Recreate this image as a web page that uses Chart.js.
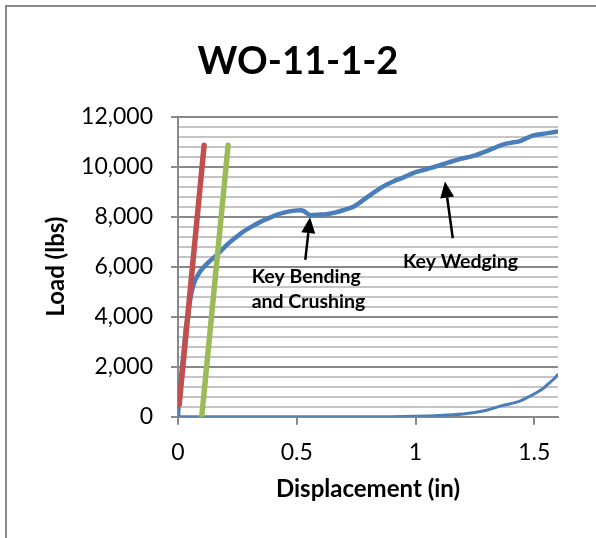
<!DOCTYPE html>
<html>
<head>
<meta charset="utf-8">
<script src="https://cdn.jsdelivr.net/npm/chart.js@4/dist/chart.umd.min.js"></script>
<style>
  html, body { margin: 0; padding: 0; background: #fff; }
  #wrap { width: 596px; height: 538px; }
</style>
</head>
<body>
<div id="wrap"><canvas id="loadChart" width="596" height="538"></canvas></div>
<script>
// chart title and axis titles
var chartTitle = 'WO-11-1-2';
var xTitle = 'Displacement (in)';
var yTitle = 'Load (lbs)';

// tick labels
var xTickLabels = ['0', '0.5', '1', '1.5'];
var yTickLabels = ['0', '2,000', '4,000', '6,000', '8,000', '10,000', '12,000'];

// main load curve (blue)
var loadDisp = [0, 0.003, 0.012, 0.023, 0.033, 0.042, 0.05, 0.058, 0.068, 0.08, 0.095, 0.115, 0.14, 0.165, 0.19, 0.215, 0.245, 0.275, 0.31, 0.345, 0.38, 0.415, 0.45, 0.49, 0.515, 0.53, 0.545, 0.56, 0.59, 0.625, 0.66, 0.7, 0.735, 0.765, 0.8, 0.835, 0.87, 0.91, 0.947, 0.99, 1.04, 1.087, 1.14, 1.185, 1.24, 1.297, 1.33, 1.367, 1.4, 1.437, 1.47, 1.493, 1.55, 1.605];
var loadVal  = [0, 550, 1500, 2500, 3500, 4000, 4600, 5000, 5350, 5600, 5830, 6050, 6270, 6480, 6720, 6950, 7180, 7400, 7600, 7780, 7930, 8070, 8170, 8240, 8260, 8220, 8120, 8060, 8080, 8100, 8160, 8270, 8380, 8560, 8800, 9030, 9240, 9420, 9560, 9740, 9880, 10010, 10170, 10300, 10420, 10610, 10740, 10880, 10950, 11010, 11150, 11240, 11330, 11410];

// lower curve (blue)
var lowDisp = [0, 0.2, 0.4, 0.6, 0.8, 1.0, 1.1, 1.2, 1.25, 1.3, 1.353, 1.4, 1.437, 1.47, 1.507, 1.54, 1.563, 1.585, 1.601];
var lowVal  = [0, 0, 0, 0, 0, 20, 50, 110, 170, 260, 413, 520, 613, 760, 947, 1150, 1347, 1530, 1707];

// stiffness lines
var redDisp = [0.005, 0.11];
var redVal  = [480, 10850];
var greenDisp = [0.1, 0.211];
var greenVal  = [0, 10850];

// notes: text and arrows, in data units
var notes = [
  { text: 'Key Bending', x: 0.31, y: 5336 },
  { text: 'and Crushing', x: 0.31, y: 4348 },
  { text: 'Key Wedging', x: 0.947, y: 5960 }
];
var arrows = [
  { fromX: 0.536, fromY: 6270, toX: 0.556, toY: 7980 },
  { fromX: 1.157, fromY: 7136, toX: 1.124, toY: 9400 }
];

function toPoints(xs, ys) {
  var pts = [];
  for (var i = 0; i < xs.length; i++) {
    pts.push({ x: xs[i], y: ys[i] });
  }
  return pts;
}

var majorGrid = '#898989';
var minorGrid = '#c4c4c4';

// frame round the chart and white background
var framePlugin = {
  id: 'frame',
  beforeDraw: function (chart) {
    var ctx = chart.ctx;
    ctx.save();
    ctx.fillStyle = '#fff';
    ctx.fillRect(0, 0, chart.width, chart.height);
    ctx.strokeStyle = '#8a8a8a';
    ctx.lineWidth = 2;
    ctx.beginPath();
    ctx.moveTo(6, chart.height);
    ctx.lineTo(6, 6);
    ctx.lineTo(chart.width, 6);
    ctx.stroke();
    ctx.restore();
  }
};

// arrows and text notes
var notesPlugin = {
  id: 'notes',
  afterDatasetsDraw: function (chart) {
    var ctx = chart.ctx;
    var xs = chart.scales.x, ys = chart.scales.y;
    ctx.save();
    ctx.fillStyle = '#000';
    ctx.strokeStyle = '#000';
    ctx.lineWidth = 2.5;
    arrows.forEach(function (a) {
      var x1 = xs.getPixelForValue(a.fromX), y1 = ys.getPixelForValue(a.fromY);
      var x2 = xs.getPixelForValue(a.toX), y2 = ys.getPixelForValue(a.toY);
      var ang = Math.atan2(y2 - y1, x2 - x1);
      var headLen = 16, headW = 7;
      var bx = x2 - headLen * Math.cos(ang), by = y2 - headLen * Math.sin(ang);
      ctx.beginPath();
      ctx.moveTo(x1, y1);
      ctx.lineTo(bx, by);
      ctx.stroke();
      ctx.beginPath();
      ctx.moveTo(x2, y2);
      ctx.lineTo(bx + headW * Math.sin(ang), by - headW * Math.cos(ang));
      ctx.lineTo(bx - headW * Math.sin(ang), by + headW * Math.cos(ang));
      ctx.closePath();
      ctx.fill();
    });
    ctx.font = 'bold 19.5px Lato';
    ctx.textAlign = 'left';
    ctx.textBaseline = 'alphabetic';
    notes.forEach(function (n) {
      ctx.fillText(n.text, xs.getPixelForValue(n.x), ys.getPixelForValue(n.y));
    });
    ctx.restore();
  }
};

Chart.defaults.font.family = 'Lato';
Chart.defaults.color = '#000';

var ctx = document.getElementById('loadChart').getContext('2d');
var chart = new Chart(ctx, {
  type: 'line',
  data: {
    datasets: [
      {
        label: 'Red',
        data: toPoints(redDisp, redVal),
        borderColor: '#c0504d',
        borderWidth: 5.5,
        borderCapStyle: 'round',
        pointRadius: 0
      },
      {
        label: 'Green',
        data: toPoints(greenDisp, greenVal),
        borderColor: '#9bbb59',
        borderWidth: 5.5,
        borderCapStyle: 'round',
        pointRadius: 0
      },
      {
        label: 'Load',
        data: toPoints(loadDisp, loadVal),
        borderColor: '#4a7ebb',
        borderWidth: 4.5,
        cubicInterpolationMode: 'monotone',
        pointRadius: 0
      },
      {
        label: 'Lower',
        data: toPoints(lowDisp, lowVal),
        borderColor: '#4a7ebb',
        borderWidth: 3,
        cubicInterpolationMode: 'monotone',
        pointRadius: 0
      }
    ]
  },
  options: {
    responsive: false,
    animation: false,
    layout: { padding: 0 },
    plugins: {
      legend: { display: false },
      tooltip: { enabled: false },
      title: {
        display: true,
        text: chartTitle,
        font: { size: 38, weight: 'bold' },
        color: '#000',
        padding: { top: 39, bottom: 32 }
      }
    },
    scales: {
      x: {
        type: 'linear',
        min: 0,
        max: 1.6,
        afterFit: function (scale) { scale.height = 121.3; },
        grid: {
          drawOnChartArea: false,
          drawTicks: true,
          tickLength: 8,
          color: majorGrid,
          lineWidth: 2
        },
        border: { display: true, color: majorGrid, width: 2 },
        ticks: {
          stepSize: 0.5,
          includeBounds: false,
          padding: 14,
          font: { size: 23 },
          callback: function (v, i) { return xTickLabels[i]; }
        },
        title: {
          display: true,
          text: xTitle,
          font: { size: 24, weight: 'bold' },
          padding: { top: 0, bottom: 34 }
        }
      },
      y: {
        min: 0,
        max: 12000,
        afterFit: function (scale) { scale.width = 178; },
        grid: {
          color: function (c) { return c.tick && c.tick.value % 2000 === 0 ? majorGrid : minorGrid; },
          tickColor: function (c) { return c.tick && c.tick.value % 2000 === 0 ? majorGrid : 'rgba(0,0,0,0)'; },
          lineWidth: 2,
          tickLength: 7
        },
        border: { display: true, color: majorGrid, width: 2 },
        ticks: {
          stepSize: 400,
          autoSkip: false,
          padding: 18,
          font: { size: 23 },
          callback: function (v) {
            return v % 2000 === 0 ? yTickLabels[v / 2000] : '';
          }
        },
        title: {
          display: true,
          text: yTitle,
          font: { size: 24, weight: 'bold' },
          padding: { top: 42, bottom: 0 }
        }
      },
      // empty right margin so the title centres on the whole canvas
      yRight: {
        position: 'right',
        afterFit: function (scale) { scale.width = 38; },
        grid: { display: false },
        border: { display: false },
        ticks: { display: false }
      }
    }
  },
  plugins: [framePlugin, notesPlugin]
});
</script>
</body>
</html>
